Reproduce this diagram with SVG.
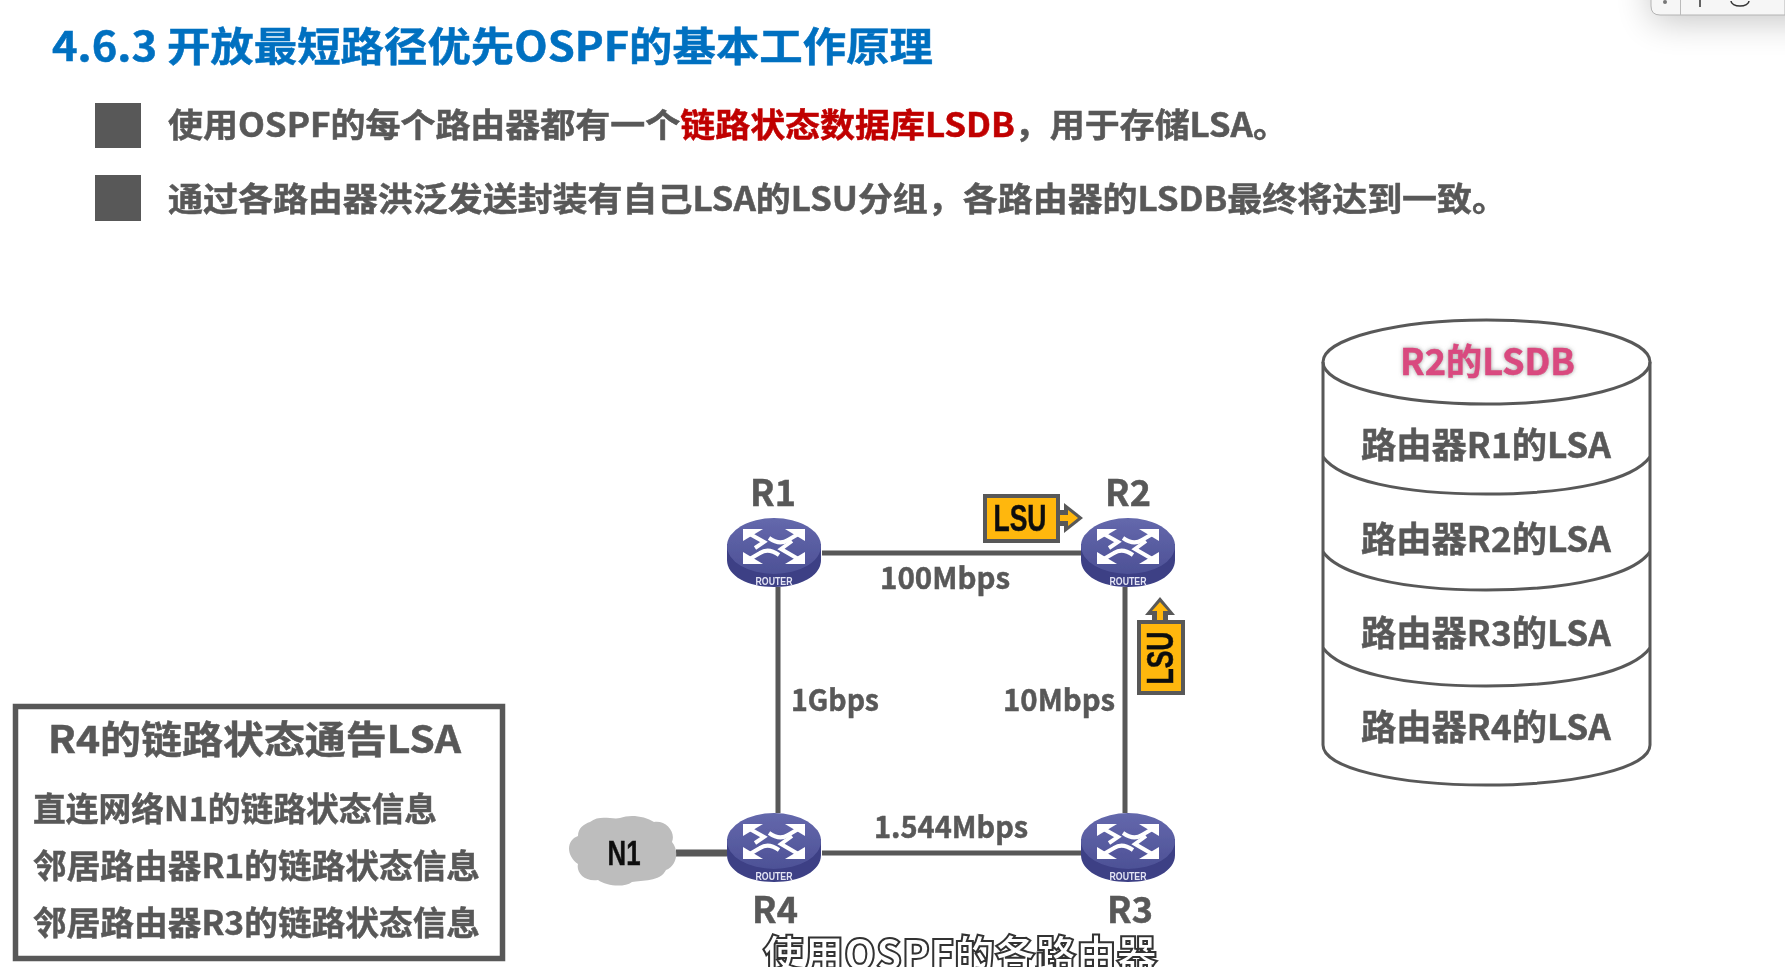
<svg xmlns="http://www.w3.org/2000/svg" xmlns:xlink="http://www.w3.org/1999/xlink" width="1785" height="967" viewBox="0 0 1785 967">
<style>
text{font-family:"Noto Sans CJK SC","Noto Sans",sans-serif;font-weight:700;fill:#595959;stroke:#595959;stroke-width:.5}
.title{font-size:40px;fill:#0070C0;stroke:#0070C0}
.bl{font-size:33px}
.hot{fill:#C00000;stroke:#C00000}
.rn{font-size:36px;text-anchor:middle}
.sp{font-size:30px}
.lsa{font-size:35px;text-anchor:middle}
.bx{font-size:33px}
.link{stroke:#595959;stroke-width:5;fill:none}
.cy{fill:none;stroke:#595959;stroke-width:3}
.tag{fill:#FFB70A;stroke:#595959;stroke-width:4}
.tagout{fill:#595959}
.tagin{fill:#FFB70A}
.lsu{font-family:"Liberation Sans",sans-serif;font-size:36px;fill:#111;stroke:#111;text-anchor:middle}
.ra{fill:none;stroke:#fff;stroke-width:4}
</style>
<defs>
<linearGradient id="rt" x1="0" y1="0" x2="0" y2="1"><stop offset="0" stop-color="#6468ac"/><stop offset="1" stop-color="#4d5196"/></linearGradient>
<filter id="blur" x="-30%" y="-100%" width="160%" height="300%"><feGaussianBlur stdDeviation="18"/></filter>
<filter id="soft" filterUnits="userSpaceOnUse" x="0" y="0" width="1785" height="967"><feGaussianBlur stdDeviation="0.6"/></filter>
<filter id="glow" x="-10%" y="-20%" width="120%" height="140%"><feDropShadow dx="0" dy="0" stdDeviation="2" flood-color="#888" flood-opacity="0.8"/></filter>
<g id="router">
<path d="M-47,-8 V8 C-47,24 -26,35 0,35 C26,35 47,24 47,8 V-8 Z" fill="#3c3f85"/>
<ellipse cx="0" cy="-6" rx="47" ry="28" fill="url(#rt)"/>
<g fill="#fff">
<path d="M-31,-23 H-11 L-31,-11 Z"/>
<path d="M31,-23 H11 L31,-11 Z"/>
<path d="M-31,12 H-11 L-31,0 Z"/>
<path d="M31,12 H11 L31,0 Z"/>
</g>
<path class="ra" d="M-26,-19 L-10,-10 L-19,-4"/>
<path class="ra" d="M26,-19 L14,-12 C8,-8 2,-9 -5,-14"/>
<path class="ra" d="M-26,8 L-14,1 C-8,-3 -2,-2 5,3"/>
<path class="ra" d="M26,8 L7,-3 L18,-11"/>
<text x="0" y="33" text-anchor="middle" textLength="37" lengthAdjust="spacingAndGlyphs" style="font-size:11px;fill:#e3e4f4;stroke:none;font-family:'Liberation Sans',sans-serif">ROUTER</text>
</g>
</defs>
<rect width="1785" height="967" fill="#fff"/>

<g id="toolbar">
<rect x="1652" y="-40" width="190" height="60" fill="#000" opacity="0.24" filter="url(#blur)"/>
<path d="M1651,-2 V6 Q1651,15 1660,15 H1785 V-2 Z" fill="#f6f6f6" stroke="#b4b4b4" stroke-width="1"/>
<path d="M1680.500,0 V15" stroke="#bbb" stroke-width="1"/>
<circle cx="1665" cy="2" r="2" fill="#777"/>
<path d="M1700,0 V7" stroke="#333" stroke-width="1.500"/>
<path d="M1731,1 A9,5 0 0 0 1749,1" stroke="#333" stroke-width="1.500" fill="none"/>
</g>

<g filter="url(#soft)">
<text class="title" x="52" y="61" textLength="881" lengthAdjust="spacingAndGlyphs">4.6.3 开放最短路径优先OSPF的基本工作原理</text>
<rect id="b1" x="95" y="103" width="46" height="45" fill="#595959"/>
<rect id="b2" x="95" y="175" width="46" height="46" fill="#595959"/>
<text class="bl" x="168" y="137" textLength="1120" lengthAdjust="spacingAndGlyphs">使用OSPF的每个路由器都有一个<tspan class="hot">链路状态数据库LSDB</tspan>，用于存储LSA。</text>
<text class="bl" x="168" y="211" textLength="1339" lengthAdjust="spacingAndGlyphs">通过各路由器洪泛发送封装有自己LSA的LSU分组，各路由器的LSDB最终将达到一致。</text>

<g id="connectors">
<path class="link" d="M822,553 H1081"/>
<path class="link" d="M778,587 V813"/>
<path class="link" d="M1125,587 V813"/>
<path class="link" d="M822,853 H1081"/>
<path class="link" d="M676,853 H727" style="stroke-width:7"/>
</g>

<g id="R1"><use xlink:href="#router" href="#router" x="774" y="552"/><text class="rn" x="773" y="506">R1</text></g>
<g id="R2"><use xlink:href="#router" href="#router" x="1128" y="552"/><text class="rn" x="1128" y="506">R2</text></g>
<g id="R4"><use xlink:href="#router" href="#router" x="774" y="847"/><text class="rn" x="775" y="923">R4</text></g>
<g id="R3"><use xlink:href="#router" href="#router" x="1128" y="847"/><text class="rn" x="1130" y="923">R3</text></g>

<g id="N1">
<path d="M590,822 C600,814 612,820 620,818 C630,814 645,816 654,822 C666,820 676,832 672,842 C680,852 676,866 666,870 C660,882 642,880 632,882 C624,888 606,886 598,880 C584,882 576,872 578,864 C566,856 566,840 578,836 C578,828 584,824 590,822 Z" fill="#bdbdbd"/>
<text x="624" y="865" text-anchor="middle" textLength="33" lengthAdjust="spacingAndGlyphs" style="font-family:'Liberation Sans',sans-serif;font-size:35px;fill:#111;stroke:#111">N1</text>
</g>

<text class="sp" x="880" y="589" textLength="130" lengthAdjust="spacingAndGlyphs">100Mbps</text>
<text class="sp" x="791" y="711" textLength="88" lengthAdjust="spacingAndGlyphs">1Gbps</text>
<text class="sp" x="1003" y="711" textLength="112" lengthAdjust="spacingAndGlyphs">10Mbps</text>
<text class="sp" x="874" y="838" textLength="154" lengthAdjust="spacingAndGlyphs">1.544Mbps</text>

<g id="lsu-h">
<path class="tagout" d="M1056,510 H1064 V503 L1083,518 L1064,533 V526 H1056 Z"/>
<path class="tagin" d="M1056,515 H1068 V510 L1078,518 L1068,526 V521 H1056 Z"/>
<rect class="tag" x="985" y="496" width="73" height="45"/>
<text class="lsu" x="1020" y="531" textLength="53" lengthAdjust="spacingAndGlyphs">LSU</text>
</g>
<g id="lsu-v">
<path class="tagout" d="M1152,623 V615 H1145 L1160,597 L1175,615 H1168 V623 Z"/>
<path class="tagin" d="M1157,623 V611 H1152 L1160,602 L1168,611 H1163 V623 Z"/>
<rect class="tag" x="1139" y="622" width="44" height="71"/>
<text class="lsu" x="0" y="0" transform="translate(1173,658) rotate(-90)" textLength="53" lengthAdjust="spacingAndGlyphs">LSU</text>
</g>

<g id="lsa-box">
<rect x="15.500" y="706.500" width="487" height="252" fill="#fff" stroke="#595959" stroke-width="5.500"/>
<text x="48" y="753" textLength="413" lengthAdjust="spacingAndGlyphs" style="font-size:38px">R4的链路状态通告LSA</text>
<text class="bx" x="33" y="821" textLength="404" lengthAdjust="spacingAndGlyphs">直连网络N1的链路状态信息</text>
<text class="bx" x="33" y="878" textLength="447" lengthAdjust="spacingAndGlyphs">邻居路由器R1的链路状态信息</text>
<text class="bx" x="33" y="935" textLength="447" lengthAdjust="spacingAndGlyphs">邻居路由器R3的链路状态信息</text>
</g>

<g id="lsdb">
<path class="cy" d="M1323,362 V745 C1323,768 1396,785 1486,785 C1577,785 1650,768 1650,745 V362"/>
<ellipse class="cy" cx="1486.500" cy="362" rx="163.500" ry="42"/>
<path class="cy" d="M1323,457 C1340,480 1400,494 1486,494 C1573,494 1633,480 1650,457"/>
<path class="cy" d="M1323,552 C1340,575 1400,590 1486,590 C1573,590 1633,575 1650,552"/>
<path class="cy" d="M1323,648 C1340,671 1400,686 1486,686 C1573,686 1633,671 1650,648"/>
<text x="1400" y="375" textLength="175" lengthAdjust="spacingAndGlyphs" filter="url(#glow)" style="font-size:36px;fill:#D9487F;stroke:#D9487F">R2的LSDB</text>
<text class="lsa" x="1486" y="458" textLength="250" lengthAdjust="spacingAndGlyphs">路由器R1的LSA</text>
<text class="lsa" x="1486" y="552" textLength="250" lengthAdjust="spacingAndGlyphs">路由器R2的LSA</text>
<text class="lsa" x="1486" y="646" textLength="250" lengthAdjust="spacingAndGlyphs">路由器R3的LSA</text>
<text class="lsa" x="1486" y="740" textLength="250" lengthAdjust="spacingAndGlyphs">路由器R4的LSA</text>
</g>

<text x="763" y="969" textLength="394" lengthAdjust="spacingAndGlyphs" style="font-size:40px;fill:#fff;stroke:#333;stroke-width:2;font-weight:900">使用OSPF的各路由器</text>
</g>
</svg>
